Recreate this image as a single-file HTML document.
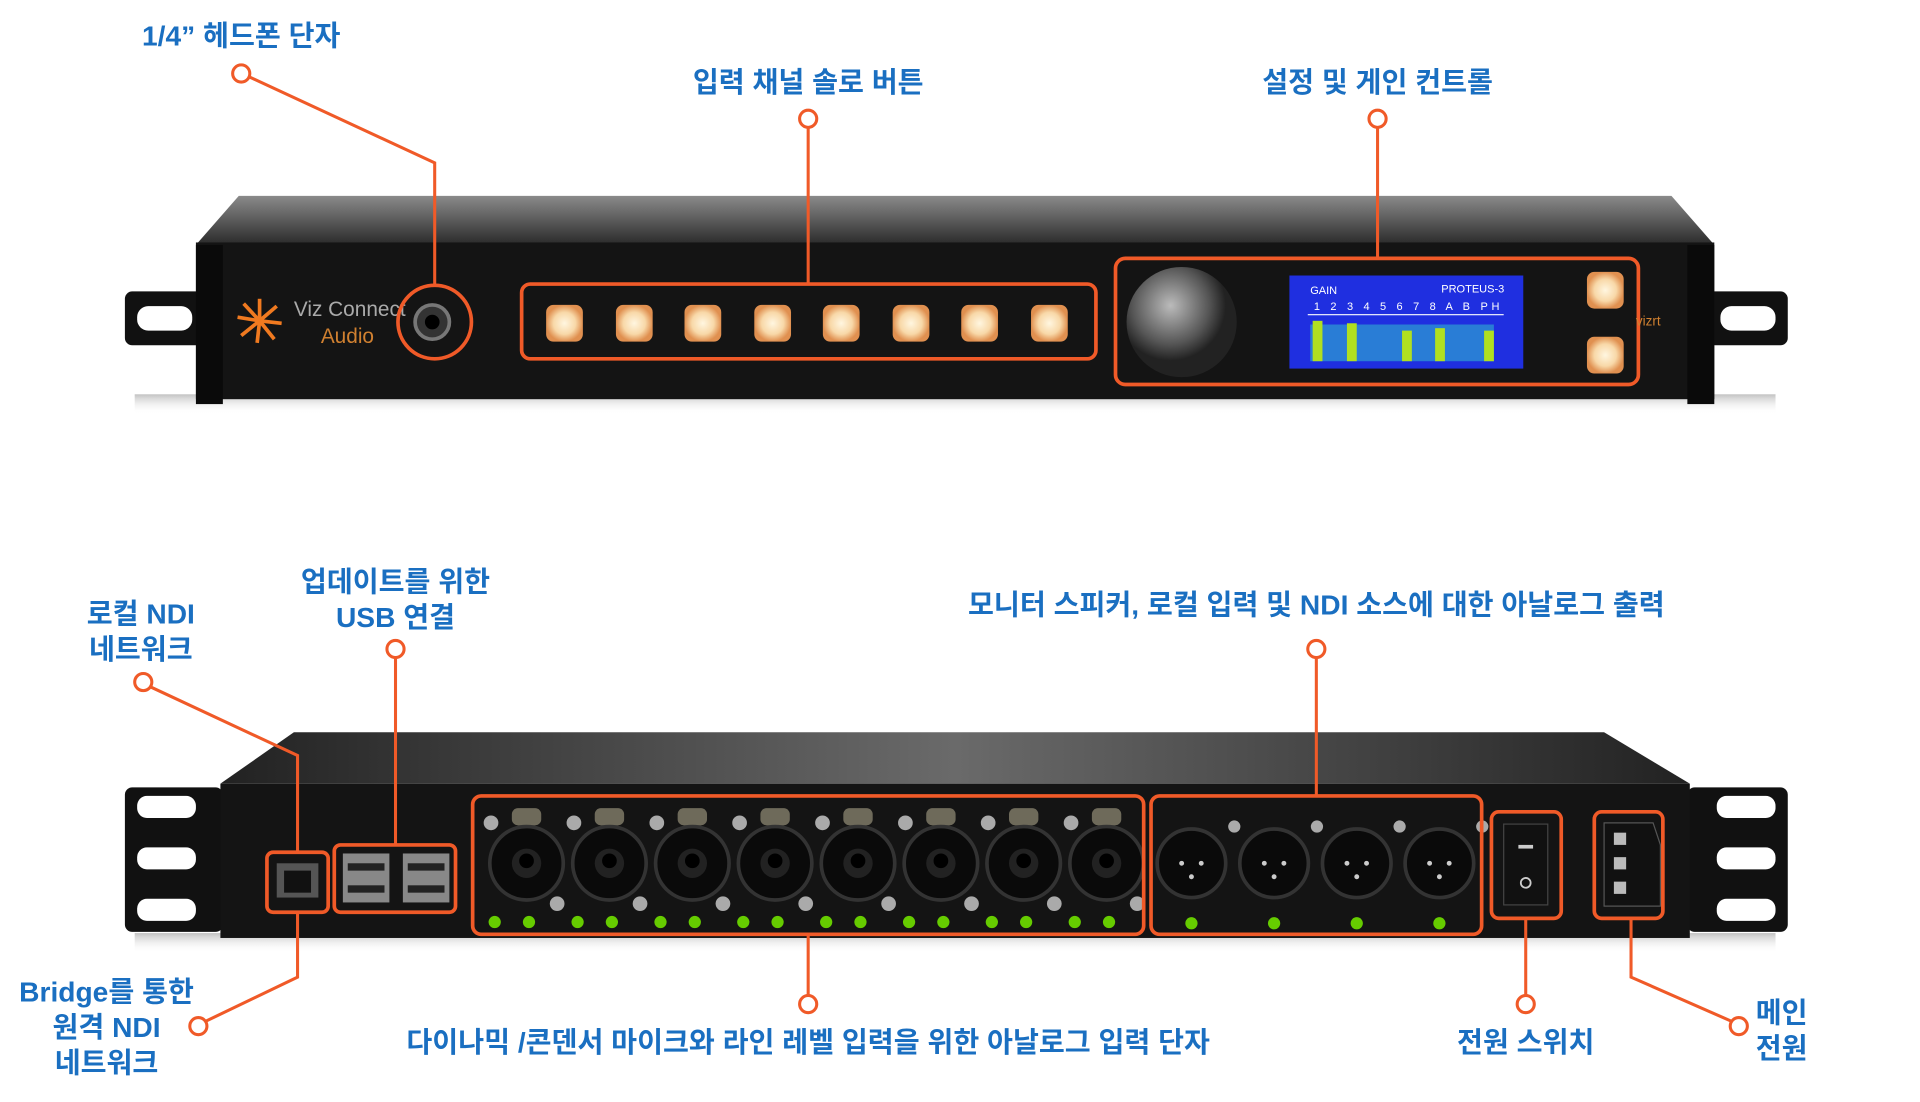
<!DOCTYPE html>
<html><head><meta charset="utf-8"><style>
html,body{margin:0;padding:0;background:#fff;width:1920px;height:1101px;overflow:hidden}
#s{position:absolute;left:0;top:0;width:1568px;height:900px;transform:scale(1.2245);transform-origin:0 0}
svg{position:absolute;left:0;top:0}
.t{font-family:"Liberation Sans","Noto Sans CJK KR",sans-serif;font-weight:bold;font-size:23px;fill:#1a6fc1}
</style></head><body><div id="s">
<svg width="1568" height="900" viewBox="0 0 1568 900">
<defs>
<linearGradient id="lid" x1="0" y1="0" x2="0" y2="1"><stop offset="0" stop-color="#8a8a8a"/><stop offset="1" stop-color="#2a2a2a"/></linearGradient>
<linearGradient id="lidr" x1="0" y1="0" x2="1" y2="0"><stop offset="0" stop-color="#222"/><stop offset=".5" stop-color="#6a6a6a"/><stop offset="1" stop-color="#222"/></linearGradient>
<radialGradient id="btn"><stop offset="0" stop-color="#fff6e0"/><stop offset=".6" stop-color="#f8d8a8"/><stop offset="1" stop-color="#e09050"/></radialGradient>
<radialGradient id="knob" cx=".4" cy=".35"><stop offset="0" stop-color="#bbb"/><stop offset=".7" stop-color="#555"/><stop offset="1" stop-color="#222"/></radialGradient>
<linearGradient id="sh" x1="0" y1="0" x2="0" y2="1"><stop offset="0" stop-color="#999"/><stop offset="1" stop-color="#fff" stop-opacity="0"/></linearGradient>
</defs>
<rect x="110" y="322" width="1340" height="16" fill="url(#sh)" opacity=".6"/>
<polygon points="195,160 1365,160 1400,200 160,200" fill="url(#lid)"/>
<rect x="102" y="238" width="65" height="44" rx="6" fill="#111"/><rect x="112" y="250" width="45" height="20" rx="9" fill="#fff"/>
<rect x="1393" y="238" width="67" height="44" rx="6" fill="#111"/><rect x="1405" y="250" width="45" height="20" rx="9" fill="#fff"/>
<rect x="160" y="198" width="1240" height="128" fill="#141414"/>
<rect x="160" y="200" width="22" height="130" fill="#0a0a0a"/><rect x="1378" y="200" width="22" height="130" fill="#0a0a0a"/>
<g stroke="#f07a20" stroke-width="3"><line x1="212" y1="262" x2="212" y2="244"/><line x1="212" y1="262" x2="226" y2="250"/><line x1="212" y1="262" x2="230" y2="264"/><line x1="212" y1="262" x2="224" y2="277"/><line x1="212" y1="262" x2="210" y2="280"/><line x1="212" y1="262" x2="197" y2="274"/><line x1="212" y1="262" x2="194" y2="259"/><line x1="212" y1="262" x2="199" y2="248"/></g>
<text x="240" y="258" font-family="Liberation Sans,sans-serif" font-size="17" fill="#aaa">Viz Connect</text>
<text x="262" y="280" font-family="Liberation Sans,sans-serif" font-size="17" fill="#d08030">Audio</text>
<circle cx="353" cy="263" r="14" fill="#333" stroke="#777" stroke-width="3"/><circle cx="353" cy="263" r="6" fill="#000"/>
<circle cx="355" cy="263" r="30" fill="none" stroke="#f05a28" stroke-width="3"/>
<rect x="426" y="232" width="469" height="61" rx="7" fill="none" stroke="#f05a28" stroke-width="3"/>
<g fill="url(#btn)">
<rect x="446" y="249" width="30" height="30" rx="6"/><rect x="503" y="249" width="30" height="30" rx="6"/><rect x="559" y="249" width="30" height="30" rx="6"/><rect x="616" y="249" width="30" height="30" rx="6"/><rect x="672" y="249" width="30" height="30" rx="6"/><rect x="729" y="249" width="30" height="30" rx="6"/><rect x="785" y="249" width="30" height="30" rx="6"/><rect x="842" y="249" width="30" height="30" rx="6"/>
<rect x="1296" y="222" width="30" height="30" rx="6"/><rect x="1296" y="275" width="30" height="30" rx="6"/></g>
<circle cx="965" cy="263" r="45" fill="url(#knob)"/>
<rect x="1053" y="225" width="191" height="76" fill="#1f2fe0"/>
<text x="1070" y="240" font-family="Liberation Sans,sans-serif" font-size="9" fill="#fff">GAIN</text>
<text x="1177" y="239" font-family="Liberation Sans,sans-serif" font-size="9" fill="#fff">PROTEUS-3</text>
<text x="1073" y="253" font-family="Liberation Sans,sans-serif" font-size="9" fill="#fff" letter-spacing="3">1 2 3 4 5 6 7 8 A B PH</text>
<line x1="1068" y1="257" x2="1228" y2="257" stroke="#fff"/>
<g fill="#3cc"><rect x="1070" y="265" width="150" height="30" opacity=".5"/></g>
<g fill="#b0e020"><rect x="1072" y="262" width="8" height="33"/><rect x="1100" y="264" width="8" height="31"/><rect x="1145" y="270" width="8" height="25"/><rect x="1172" y="268" width="8" height="27"/><rect x="1212" y="270" width="8" height="25"/></g>
<rect x="911" y="211" width="427" height="103" rx="8" fill="none" stroke="#f05a28" stroke-width="3"/>
<text x="1336" y="266" font-family="Liberation Sans,sans-serif" font-size="11" fill="#d08030">vizrt</text>
<rect x="110" y="762" width="1340" height="16" fill="url(#sh)" opacity=".6"/>
<polygon points="240,598 1310,598 1380,640 180,640" fill="url(#lidr)"/>
<rect x="102" y="643" width="80" height="118" rx="6" fill="#111"/>
<rect x="112" y="650" width="48" height="18" rx="8" fill="#fff"/><rect x="112" y="692" width="48" height="18" rx="8" fill="#fff"/><rect x="112" y="734" width="48" height="18" rx="8" fill="#fff"/>
<rect x="1378" y="643" width="82" height="118" rx="6" fill="#111"/>
<rect x="1402" y="650" width="48" height="18" rx="8" fill="#fff"/><rect x="1402" y="692" width="48" height="18" rx="8" fill="#fff"/><rect x="1402" y="734" width="48" height="18" rx="8" fill="#fff"/>
<rect x="180" y="640" width="1200" height="126" fill="#141414"/>
<rect x="226" y="705" width="34" height="28" fill="#555"/><rect x="232" y="711" width="22" height="18" fill="#111"/>
<rect x="280" y="697" width="38" height="40" fill="#888"/><rect x="329" y="697" width="38" height="40" fill="#888"/>
<rect x="284" y="705" width="30" height="6" fill="#222"/><rect x="284" y="723" width="30" height="6" fill="#222"/><rect x="333" y="705" width="30" height="6" fill="#222"/><rect x="333" y="723" width="30" height="6" fill="#222"/>
<rect x="218" y="696" width="50" height="49" rx="5" fill="none" stroke="#f05a28" stroke-width="3"/>
<rect x="273" y="690" width="99" height="55" rx="5" fill="none" stroke="#f05a28" stroke-width="3"/>
<g>
<g id="c"><rect x="418" y="660" width="24" height="14" rx="5" fill="#6e6a5a"/><circle cx="401" cy="672" r="6" fill="#aaa"/><circle cx="455" cy="738" r="6" fill="#aaa"/><circle cx="430" cy="705" r="30" fill="#0a0a0a" stroke="#333" stroke-width="3"/><circle cx="430" cy="705" r="12" fill="#222"/><circle cx="430" cy="703" r="6" fill="#000"/><circle cx="404" cy="753" r="5" fill="#6c0"/><circle cx="432" cy="753" r="5" fill="#6c0"/></g>
<use href="#c" x="67.7"/><use href="#c" x="135.4"/><use href="#c" x="203"/><use href="#c" x="270.7"/><use href="#c" x="338.4"/><use href="#c" x="406"/><use href="#c" x="473.7"/>
</g>
<g id="o"><circle cx="973" cy="705" r="28" fill="#0a0a0a" stroke="#333" stroke-width="3"/><circle cx="1008" cy="675" r="5" fill="#aaa"/><circle cx="973" cy="754" r="5" fill="#6c0"/><circle cx="965" cy="705" r="2" fill="#ccc"/><circle cx="981" cy="705" r="2" fill="#ccc"/><circle cx="973" cy="716" r="2" fill="#ccc"/></g>
<use href="#o" x="67.5"/><use href="#o" x="135"/><use href="#o" x="202.5"/>
<rect x="386" y="650" width="548" height="113" rx="7" fill="none" stroke="#f05a28" stroke-width="3"/>
<rect x="940" y="650" width="270" height="113" rx="7" fill="none" stroke="#f05a28" stroke-width="3"/>
<rect x="1228" y="673" width="36" height="66" fill="#111" stroke="#444"/><rect x="1240" y="690" width="12" height="3" fill="#ccc"/><circle cx="1246" cy="721" r="4" fill="none" stroke="#ccc" stroke-width="1.5"/>
<polygon points="1310,672 1350,672 1356,690 1356,740 1310,740" fill="#111" stroke="#555"/>
<rect x="1318" y="680" width="10" height="10" fill="#bbb"/><rect x="1318" y="700" width="10" height="10" fill="#bbb"/><rect x="1318" y="720" width="10" height="10" fill="#bbb"/>
<rect x="1218" y="663" width="57" height="87" rx="6" fill="none" stroke="#f05a28" stroke-width="3"/>
<rect x="1302" y="663" width="56" height="87" rx="6" fill="none" stroke="#f05a28" stroke-width="3"/>
<g fill="#fff" stroke="#f05a28" stroke-width="2.5">
<polyline fill="none" points="204,63 355,133 355,233"/><circle cx="197" cy="60" r="7"/>
<line x1="660" y1="104" x2="660" y2="232"/><circle cx="660" cy="97" r="7"/>
<line x1="1125" y1="104" x2="1125" y2="211"/><circle cx="1125" cy="97" r="7"/>
<polyline fill="none" points="123,561 243,617 243,696"/><circle cx="117" cy="557" r="7"/>
<polyline fill="none" points="243,745 243,798 168,834"/><circle cx="162" cy="838" r="7"/>
<line x1="323" y1="537" x2="323" y2="690"/><circle cx="323" cy="530" r="7"/>
<line x1="1075" y1="537" x2="1075" y2="650"/><circle cx="1075" cy="530" r="7"/>
<line x1="660" y1="763" x2="660" y2="813"/><circle cx="660" cy="820" r="7"/>
<line x1="1246" y1="750" x2="1246" y2="813"/><circle cx="1246" cy="820" r="7"/>
<polyline fill="none" points="1332,750 1332,798 1414,834"/><circle cx="1420" cy="838" r="7"/>
</g>
<g class="t" text-anchor="middle">
<text x="197" y="37">1/4” 헤드폰 단자</text>
<text x="660" y="75">입력 채널 솔로 버튼</text>
<text x="1125" y="75">설정 및 게인 컨트롤</text>
<text x="115" y="509">로컬 NDI</text><text x="115" y="538">네트워크</text>
<text x="323" y="483">업데이트를 위한</text><text x="323" y="512">USB 연결</text>
<text x="1075" y="502">모니터 스피커, 로컬 입력 및 NDI 소스에 대한 아날로그 출력</text>
<text x="87" y="818">Bridge를 통한</text><text x="87" y="847">원격 NDI</text><text x="87" y="876">네트워크</text>
<text x="660" y="859">다이나믹 /콘덴서 마이크와 라인 레벨 입력을 위한 아날로그 입력 단자</text>
<text x="1246" y="859">전원 스위치</text>
<text x="1455" y="835">메인</text><text x="1455" y="864">전원</text>
</g>
</svg></div></body></html>
